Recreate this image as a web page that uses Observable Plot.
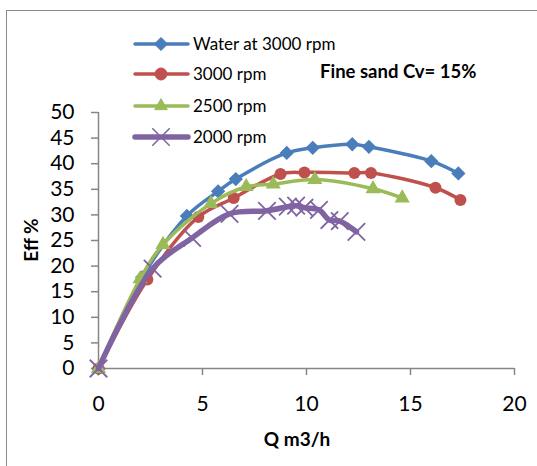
<!DOCTYPE html>
<html><head><meta charset="utf-8">
<script src="https://cdn.jsdelivr.net/npm/d3@7"></script>
<script src="https://cdn.jsdelivr.net/npm/@observablehq/plot@0.6"></script>
<style>
body{margin:0;background:#fff;}
#wrap{position:relative;width:537px;height:466px;overflow:hidden;font-family:Lato,"Open Sans",sans-serif;}
#frame{position:absolute;left:6px;top:10px;width:700px;height:700px;border:1.5px solid #8a8a8a;box-sizing:border-box;}
#chart{position:absolute;left:0;top:0;}
.lbl{position:absolute;font-weight:bold;font-size:19px;color:#000;white-space:nowrap;}
#legend{position:absolute;left:0;top:0;}
</style></head>
<body><div id="wrap"><div id="frame"></div><div id="chart"></div><svg id="legend" width="537" height="466"></svg>
<div class="lbl" id="xl" style="left:0;width:594px;text-align:center;top:427px;">Q m3/h</div>
<div class="lbl" id="yl" style="left:30px;top:240px;transform:translate(-50%,-50%) rotate(-90deg);">Eff %</div>
<div class="lbl" style="left:320px;top:60px;font-size:18.5px;">Fine sand Cv= 15%</div>
</div>
<script>
const xTicks=[0,5,10,15,20];
const yTicks=[0,5,10,15,20,25,30,35,40,45,50];
const seriesNames=["Water at 3000 rpm","3000 rpm","2500 rpm","2000 rpm"];
const waterQ=[0,2.1,4.25,5.75,6.6,9.05,10.3,12.2,13.0,16.0,17.3];
const waterEff=[0,17.8,29.8,34.6,37.0,42.1,43.1,43.8,43.3,40.5,38.1];
const r3000Q=[0,2.35,4.8,6.5,8.75,9.9,12.3,13.1,16.2,17.4];
const r3000Eff=[0,17.4,29.6,33.3,38.0,38.3,38.2,38.2,35.3,32.9];
const r2500Q=[0,2.0,3.1,5.4,7.1,8.4,10.4,13.2,14.6];
const r2500Eff=[0,17.5,24.2,32.2,35.5,36.0,36.9,35.1,33.3];
const r2000Q=[0,2.6,4.5,6.3,8.1,9.1,9.5,9.9,10.6,11.1,11.6,12.4];
const r2000Eff=[0,19.5,25.5,30.2,30.8,31.6,31.8,31.4,31.0,29.0,28.8,26.7];

const colors=["#4a7ebb","#c0504d","#9bbb59","#8064a2"];
const mk=(q,e)=>q.map((v,i)=>({q:v,e:e[i]}));
const water=mk(waterQ,waterEff),s3000=mk(r3000Q,r3000Eff),s2500=mk(r2500Q,r2500Eff),s2000=mk(r2000Q,r2000Eff);
const grey="#868686";
const chart=Plot.plot({
  width:537,height:466,marginLeft:98,marginRight:23,marginTop:112,marginBottom:98,
  style:{fontFamily:"Lato, 'Open Sans', sans-serif",fontSize:"21px",color:"#000",background:"transparent",overflow:"visible"},
  x:{domain:[0,20]},y:{domain:[0,50]},
  marks:[
    Plot.axisX(xTicks,{tickSize:7,tickPadding:21,stroke:grey,strokeWidth:1.5,label:null,fontSize:21}),
    Plot.axisY(yTicks,{tickSize:7,tickPadding:17,stroke:grey,strokeWidth:1.5,label:null,fontSize:21}),
    Plot.ruleY([0],{stroke:grey,strokeWidth:1.5}),
    Plot.ruleX([0],{stroke:grey,strokeWidth:1.5}),
    Plot.line(water,{x:"q",y:"e",stroke:colors[0],strokeWidth:3.5,curve:"catmull-rom"}),
    Plot.dot(water,{x:"q",y:"e",symbol:"diamond2",fill:colors[0],stroke:colors[0],r:5.5}),
    Plot.line(s3000,{x:"q",y:"e",stroke:colors[1],strokeWidth:3.5,curve:"catmull-rom"}),
    Plot.dot(s3000,{x:"q",y:"e",symbol:"circle",fill:colors[1],r:6}),
    Plot.line(s2500,{x:"q",y:"e",stroke:colors[2],strokeWidth:3.5,curve:"catmull-rom"}),
    Plot.dot(s2500,{x:"q",y:"e",symbol:"triangle2",fill:colors[2],stroke:colors[2],r:6}),
    Plot.line(s2000,{x:"q",y:"e",stroke:colors[3],strokeWidth:5.5,curve:"catmull-rom"}),
    Plot.dot(s2000,{x:"q",y:"e",symbol:"times",stroke:colors[3],strokeWidth:1.8,r:8})
  ]
});
document.getElementById("chart").appendChild(chart);

// legend
const lg=d3.select("#legend");
const rowsY=[44,74,106,137];
const syms=[d3.symbolDiamond2,d3.symbolCircle,d3.symbolTriangle2,d3.symbolTimes];
const sizes=[110,113,115,200];
seriesNames.forEach((n,i)=>{
  const y=rowsY[i];
  lg.append("line").attr("x1",135).attr("x2",188).attr("y1",y).attr("y2",y)
    .attr("stroke",colors[i]).attr("stroke-width",i===3?5.5:3.5).attr("stroke-linecap","round");
  const p=lg.append("path").attr("d",d3.symbol(syms[i],sizes[i])()).attr("transform",`translate(161,${y})`);
  if(i===3) p.attr("fill","none").attr("stroke",colors[i]).attr("stroke-width",1.5);
  else p.attr("fill",colors[i]).attr("stroke",colors[i]);
  lg.append("text").attr("x",193).attr("y",y).attr("dy","0.35em").attr("font-size",17)
    .attr("font-family","Lato, 'Open Sans', sans-serif").attr("fill","#000").text(n);
});
</script></body></html>
